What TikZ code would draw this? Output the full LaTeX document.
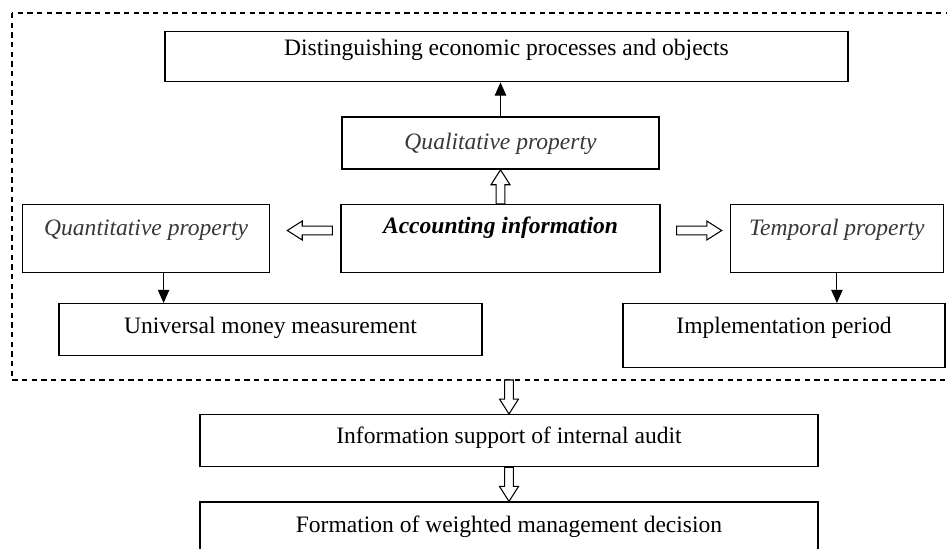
\documentclass[tikz,border=0pt]{standalone}
\usepackage{fontspec}
\setmainfont{Liberation Serif}
\usetikzlibrary{arrows.meta,positioning,calc}
\newcommand{\boxfont}{\fontsize{13.4}{16}\selectfont}

\begin{document}
\begin{tikzpicture}[
    node distance=0.68cm and 1.4cm,
    infobox/.style={rectangle, draw, line width=0.8pt, inner sep=0pt, font=\boxfont, text height=0.6cm},
    propbox/.style={infobox, font=\boxfont\itshape, text=black!78},
    frame/.style={line width=0.7pt, dash pattern=on 3pt off 2.5pt},
    arrow/.style={-{Triangle[length=7.5pt, width=6.5pt]}, line width=0.6pt},
    hollow/.style={draw, fill=white, line width=0.6pt, to path={
        let \p1=($(\tikztotarget)-(\tikztostart)$), \n1={atan2(\y1,\x1)}, \n2={veclen(\x1,\y1)} in
        {[shift={(\tikztostart)}, rotate=\n1]
          (0,-2.5pt) -- ({\n2-8.5pt},-2.5pt) -- ({\n2-8.5pt},-5.4pt) -- (\n2,0pt)
          -- ({\n2-8.5pt},5.4pt) -- ({\n2-8.5pt},2.5pt) -- (0,2.5pt) -- cycle}}}
]
    \useasboundingbox (0,0) rectangle (18.94,-10.98);

    % dashed frame round the properties
    \draw[frame] (0.24,-0.26) rectangle (19.3,-7.60);
    \coordinate (fb) at (0.24,-7.60);

    \node[infobox, minimum width=13.66cm, text height=0.48cm, text depth=0.52cm, anchor=north] (dist) at (10.13,-0.62) {Distinguishing economic processes and objects};
    \node[propbox, minimum width=6.34cm, text height=0.64cm, text depth=0.40cm, below=0.68cm of dist, xshift=-0.12cm] (qual) {Qualitative property};
    \node[infobox, font=\boxfont\bfseries\itshape, minimum width=6.38cm, text height=0.58cm, text depth=0.78cm, below=of qual] (acc) {Accounting information};
    \node[propbox, minimum width=4.94cm, text height=0.62cm, text depth=0.74cm, left=1.4cm of acc] (quant) {Quantitative property};
    \node[propbox, minimum width=4.26cm, text height=0.62cm, text depth=0.74cm, right=1.38cm of acc] (temp) {Temporal property};
    \node[infobox, minimum width=8.46cm, text depth=0.44cm, anchor=north] (univ) at (5.41,-6.06) {Universal money measurement};
    \node[infobox, minimum width=6.44cm, text depth=0.68cm, anchor=north] (impl) at (15.68,-6.06) {Implementation period};
    \node[infobox, minimum width=12.36cm, text height=0.58cm, text depth=0.46cm, anchor=north] (info) at (10.18,-8.28) {Information support of internal audit};
    \node[infobox, minimum width=12.36cm, text depth=0.70cm, below=of info] (form) {Formation of weighted management decision};

    % thin arrows
    \coordinate (qs) at ([xshift=0.35cm]quant.south);
    \draw[arrow] (qual.north) -- (qual.north |- dist.south);
    \draw[arrow] (qs) -- (qs |- univ.north);
    \draw[arrow] (temp.south) -- (temp.south |- impl.north);

    % hollow arrows
    \coordinate (la) at ([shift={(-0.16,0.16)}]acc.west);
    \coordinate (lb) at ([shift={(0.34,0.16)}]quant.east);
    \coordinate (ra) at ([shift={(0.32,0.16)}]acc.east);
    \coordinate (rb) at ([shift={(-0.16,0.16)}]temp.west);
    \path[hollow] (acc.north) to (qual.south);
    \path[hollow] (la) to (lb);
    \path[hollow] (ra) to (rb);
    \path[hollow] (info.north |- fb) to (info.north);
    \path[hollow] (info.south) to (form.north);
\end{tikzpicture}
\end{document}
